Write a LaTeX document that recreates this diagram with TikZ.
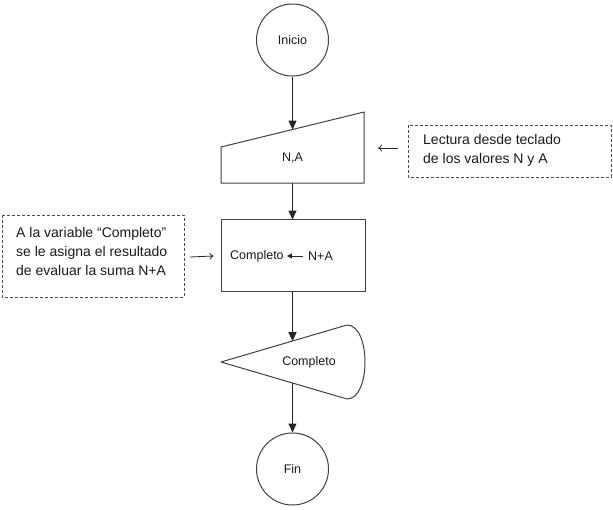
\documentclass[tikz,border=0pt]{standalone}
\usepackage{fontspec}
\setmainfont{Liberation Sans}
\usetikzlibrary{arrows.meta}
\begin{document}
\begin{tikzpicture}[x=1pt,y=-1pt, line join=round,
  shp/.style={draw=black!75, line width=1pt},
  flow/.style={draw=black!85, line width=1pt, -{Triangle[length=9pt,width=8pt]}},
  notebox/.style={draw=black!70, line width=1pt, dash pattern=on 3pt off 2pt},
  notetext/.style={align=left, font=\fontsize{14}{19}\selectfont, text=black!90, inner sep=0pt},
  lbl/.style={font=\fontsize{12.5}{15}\selectfont, text=black!90, inner sep=0pt},
  notearrow/.style={draw=black!85, line width=0.8pt, -{To[length=4pt,width=7pt]}},
  inarrow/.style={draw=black!85, line width=1pt, -{Triangle[length=5pt,width=5pt]}}]
\useasboundingbox (0,0) rectangle (613,509);

% Inicio
\node[shp, circle, minimum size=72pt, lbl] (inicio) at (292.5,40) {Inicio};

% Manual input
\draw[shp] (221,147) -- (364,112) -- (364,183) -- (221,183) -- cycle;
\node[lbl] (na) at (292.5,158) {N,A};
\coordinate (mitop) at (292.5,129.6);
\coordinate (mibot) at (292.5,183);
\coordinate (miright) at (364,148);

% Process box
\node[shp, minimum width=144pt, minimum height=72pt, inner sep=0pt] (box) at (293.5,255.5) {};
\node[lbl, anchor=west] (c1) at (230,256) {Completo};
\node[lbl, anchor=west] (c2) at (308,256) {N+A};
\draw[inarrow] ([xshift=-5pt]c2.west) -- ([xshift=3pt]c1.east);
\coordinate (boxtop) at (292.5,219.5);
\coordinate (boxbot) at (292.5,291.5);
\coordinate (boxleft) at (221.5,256);

% Display
\draw[shp] (221,362) -- (347,325) .. controls (371,325) and (371,399) .. (347,399) -- cycle;
\node[lbl] (disp) at (309,362) {Completo};
\coordinate (disptop) at (292.5,341.2);
\coordinate (dispbot) at (292.5,382.8);

% Fin
\node[shp, circle, minimum size=72pt, lbl] (fin) at (292.5,469) {Fin};

% Flow connectors
\draw[flow] (inicio.south) -- (mitop);
\draw[flow] (mibot) -- (boxtop);
\draw[flow] (boxbot) -- (disptop);
\draw[flow] (dispbot) -- (fin.north);

% Annotation 1
\draw[notebox] (408,125) rectangle (611,177);
\node[notetext, anchor=west] (ann1) at (423,150) {Lectura desde teclado\\de los valores N y A};
\coordinate (ann1left) at (408,148);
\draw[notearrow] ([xshift=-10pt]ann1left) -- ([xshift=14pt]miright);

% Annotation 2
\draw[notebox] (2,215) rectangle (184,297);
\node[notetext, anchor=west] (ann2) at (16,251) {A la variable ``Completo''\\se le asigna el resultado\\de evaluar la suma N+A};
\coordinate (ann2right) at (184,257);
\draw[notearrow] ([xshift=6pt]ann2right) -- ([xshift=-8pt]boxleft);
\end{tikzpicture}
\end{document}
